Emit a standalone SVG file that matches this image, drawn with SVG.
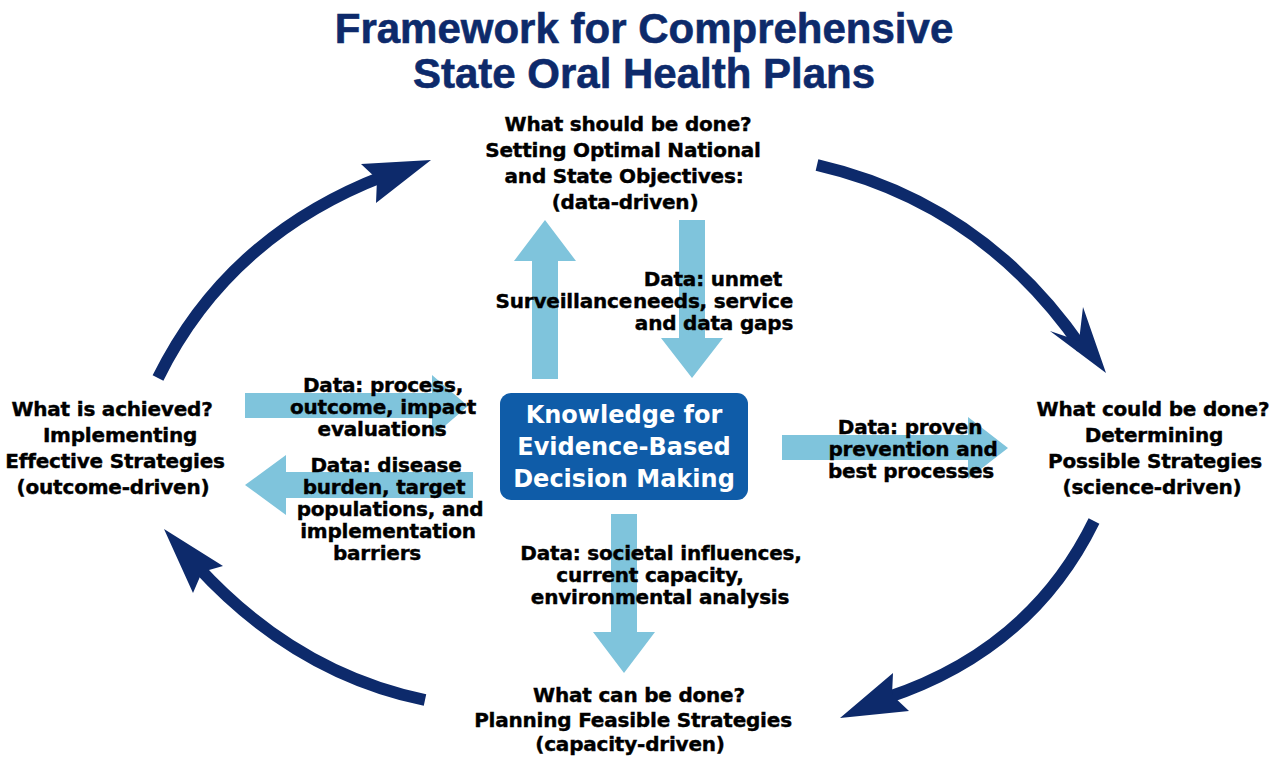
<svg xmlns="http://www.w3.org/2000/svg" width="1277" height="760" viewBox="0 0 1277 760">
<defs>
<style>
.bg{fill:#ffffff}
.title{font-family:"Liberation Sans",Arial,sans-serif;font-weight:bold;font-size:42px;fill:#0D2A6B;stroke:#0D2A6B;stroke-width:0.6;text-anchor:middle}
.lbl{font-family:"DejaVu Sans","Liberation Sans",sans-serif;font-weight:bold;font-size:20px;fill:#000000;stroke:#000000;stroke-width:0.4;text-anchor:middle;letter-spacing:-0.2px}
.box{fill:#0F5CA8}
.boxtxt{font-family:"DejaVu Sans","Liberation Sans",sans-serif;font-weight:bold;font-size:24px;fill:#ffffff;text-anchor:middle}
.flow{fill:#7FC4DC}
.cycle{fill:none;stroke:#0D2A6B;stroke-width:12;stroke-linecap:butt}
.head{fill:#0D2A6B}
</style>
</defs>
<rect class="bg" x="0" y="0" width="1277" height="760"/>

<g id="title">
<text class="title" x="644" y="43">Framework for Comprehensive</text>
<text class="title" x="644" y="88">State Oral Health Plans</text>
</g>

<g id="connectors">
<g id="flow-arrows">
<polygon class="flow" points="532,379 532,261 514,261 545,220 576,261 558,261 558,379"/>
<polygon class="flow" points="679,220 705,220 705,338 723,338 692,378 661,338 679,338"/>
<polygon class="flow" points="245,393 432,393 432,375 468,406 432,437 432,418 245,418"/>
<polygon class="flow" points="473,472 286,472 286,455 245,485 286,515 286,498 473,498"/>
<polygon class="flow" points="782,435 968,435 968,417 1008,448 968,479 968,460 782,460"/>
<polygon class="flow" points="611,514 637,514 637,632 655,632 624,673 593,632 611,632"/>
</g>
<g id="cycle-arrows">
<path class="cycle" d="M158,378 Q228,236 384,176"/>
<polygon class="head" points="431,160 361,164 377,179 376,203"/>
<path class="cycle" d="M817,165 Q982,203 1082,348"/>
<polygon class="head" points="1106,373 1050,331 1079,341 1083,307"/>
<path class="cycle" d="M1094,521 Q1031,650 886,698"/>
<polygon class="head" points="840,718 893,673 892,695 909,711"/>
<path class="cycle" d="M425,700 Q295,673 197,566"/>
<polygon class="head" points="164,529 223,566 202,572 193,593"/>
</g>
<g id="connector-labels">
<text class="lbl" x="632" y="308" style="text-anchor:end">Surveillance</text>
<text class="lbl" x="713" y="286">Data: unmet</text>
<text class="lbl" x="713" y="308">needs, service</text>
<text class="lbl" x="714" y="330">and data gaps</text>
<text class="lbl" x="383" y="392">Data: process,</text>
<text class="lbl" x="383" y="414">outcome, impact</text>
<text class="lbl" x="382" y="436">evaluations</text>
<text class="lbl" x="386" y="472">Data: disease</text>
<text class="lbl" x="384" y="494">burden, target</text>
<text class="lbl" x="390" y="516">populations, and</text>
<text class="lbl" x="388" y="538">implementation</text>
<text class="lbl" x="377" y="560">barriers</text>
<text class="lbl" x="910" y="434">Data: proven</text>
<text class="lbl" x="913" y="456">prevention and</text>
<text class="lbl" x="911" y="478">best processes</text>
<text class="lbl" x="661" y="560">Data: societal influences,</text>
<text class="lbl" x="650" y="582">current capacity,</text>
<text class="lbl" x="660" y="604">environmental analysis</text>
</g>
</g>

<g id="node-center">
<rect class="box" x="500" y="393" width="248" height="107" rx="11" ry="11"/>
<text class="boxtxt" x="624" y="423">Knowledge for</text>
<text class="boxtxt" x="624" y="455">Evidence-Based</text>
<text class="boxtxt" x="624" y="487">Decision Making</text>
</g>

<g id="node-top">
<text class="lbl" x="628" y="131">What should be done?</text>
<text class="lbl" x="623" y="157">Setting Optimal National</text>
<text class="lbl" x="624" y="183">and State Objectives:</text>
<text class="lbl" x="625" y="209">(data-driven)</text>
</g>

<g id="node-right">
<text class="lbl" x="1153" y="416">What could be done?</text>
<text class="lbl" x="1154" y="442">Determining</text>
<text class="lbl" x="1155" y="468">Possible Strategies</text>
<text class="lbl" x="1152" y="494">(science-driven)</text>
</g>

<g id="node-bottom">
<text class="lbl" x="639" y="702">What can be done?</text>
<text class="lbl" x="633" y="727">Planning Feasible Strategies</text>
<text class="lbl" x="630" y="751">(capacity-driven)</text>
</g>

<g id="node-left">
<text class="lbl" x="112" y="416">What is achieved?</text>
<text class="lbl" x="120" y="442">Implementing</text>
<text class="lbl" x="115" y="468">Effective Strategies</text>
<text class="lbl" x="113" y="494">(outcome-driven)</text>
</g>
</svg>
